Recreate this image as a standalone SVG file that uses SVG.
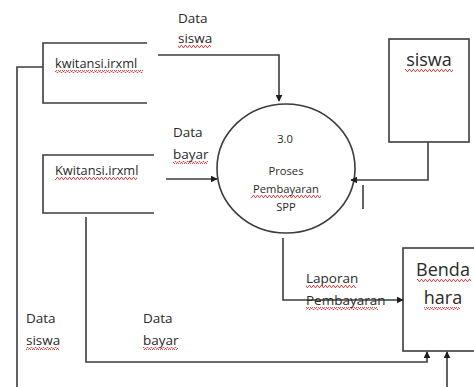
<svg xmlns="http://www.w3.org/2000/svg" width="474" height="387" viewBox="0 0 474 387">
  <style>
    .ln { fill: none; stroke: #3c3c3c; stroke-width: 1.6; }
    .box { fill: #ffffff; stroke: #3c3c3c; stroke-width: 1.6; }
    text { font-family: "Open Sans", "Noto Sans", "DejaVu Sans", sans-serif; fill: #2a2a2a; }
    .lbl { font-size: 13.5px; }
    .file { font-size: 12.8px; }
    .proc { font-size: 11.2px; text-anchor: middle; }
    .ent { font-size: 18px; text-anchor: middle; }
    .sq { fill: url(#squig); }
  </style>
  <defs>
    <marker id="arr" viewBox="0 0 10 10" refX="9" refY="5" markerWidth="7" markerHeight="7" orient="auto" markerUnits="userSpaceOnUse">
      <path d="M0,0 L10,5 L0,10 Z" fill="#1e1e1e"/>
    </marker>
    <pattern id="squig" width="4" height="3" patternUnits="userSpaceOnUse">
      <polyline points="0,2.5 1,0.5 2,0.5 3,2.5 4,2.5" fill="none" stroke="#d02020" stroke-width="0.8"/>
    </pattern>
  </defs>

  <!-- data stores (open rectangles) -->
  <g id="store1">
    <path class="ln" d="M147,43 H43 V103 H147"/>
    <text class="file" x="55" y="68">kwitansi.irxml</text>
    <rect class="sq" x="55" y="70" width="88" height="3"/>
  </g>
  <g id="store2">
    <path class="ln" d="M154,155 H43 V213 H154"/>
    <text class="file" x="55" y="175">Kwitansi.irxml</text>
    <rect class="sq" x="55" y="177" width="82" height="3"/>
  </g>

  <!-- process -->
  <g id="proc">
    <ellipse class="box" cx="286" cy="168.5" rx="69" ry="64.5"/>
    <text class="proc" x="285" y="143">3.0</text>
    <text class="proc" x="286" y="175">Proses</text>
    <text class="proc" x="286" y="193">Pembayaran</text>
    <rect class="sq" x="251" y="195" width="70" height="3"/>
    <text class="proc" x="286" y="211">SPP</text>
  </g>

  <!-- external entities -->
  <g id="siswa">
    <rect class="box" x="389" y="39" width="80" height="103"/>
    <text class="ent" x="429" y="66">siswa</text>
    <rect class="sq" x="405" y="69" width="48" height="3"/>
  </g>
  <g id="bendahara">
    <rect class="box" x="403" y="248" width="80" height="103"/>
    <text class="ent" x="443" y="276">Benda</text>
    <rect class="sq" x="417" y="279" width="54" height="3"/>
    <text class="ent" x="443" y="304">hara</text>
    <rect class="sq" x="424" y="307" width="36" height="3"/>
  </g>

  <!-- data flows -->
  <g id="flows">
    <path class="ln" d="M158,55 H279 V101" marker-end="url(#arr)"/>
    <path class="ln" d="M166,179 H217" marker-end="url(#arr)"/>
    <path class="ln" d="M428,142 V180 H351" marker-end="url(#arr)"/>
    <path class="ln" d="M363,185 V209"/>
    <path class="ln" d="M283,238 V300 H403" marker-end="url(#arr)"/>
    <path class="ln" d="M86,217 V362 H427 V352" marker-end="url(#arr)"/>
    <path class="ln" d="M447,387 V352" marker-end="url(#arr)"/>
    <path class="ln" d="M17,387 V67 H43"/>
  </g>

  <!-- flow labels -->
  <g id="labels">
    <text class="lbl" x="178" y="23">Data</text>
    <text class="lbl" x="178" y="43">siswa</text>
    <rect class="sq" x="178" y="45" width="33" height="3"/>
    <text class="lbl" x="173" y="137">Data</text>
    <text class="lbl" x="173" y="159">bayar</text>
    <rect class="sq" x="173" y="161" width="35" height="3"/>
    <text class="lbl" x="306" y="283">Laporan</text>
    <rect class="sq" x="306" y="285" width="50" height="3"/>
    <text class="lbl" x="306" y="305">Pembayaran</text>
    <rect class="sq" x="306" y="307" width="72" height="3"/>
    <text class="lbl" x="26" y="323">Data</text>
    <text class="lbl" x="26" y="345">siswa</text>
    <rect class="sq" x="26" y="347" width="33" height="3"/>
    <text class="lbl" x="143" y="323">Data</text>
    <text class="lbl" x="143" y="345">bayar</text>
    <rect class="sq" x="143" y="347" width="35" height="3"/>
  </g>
</svg>
